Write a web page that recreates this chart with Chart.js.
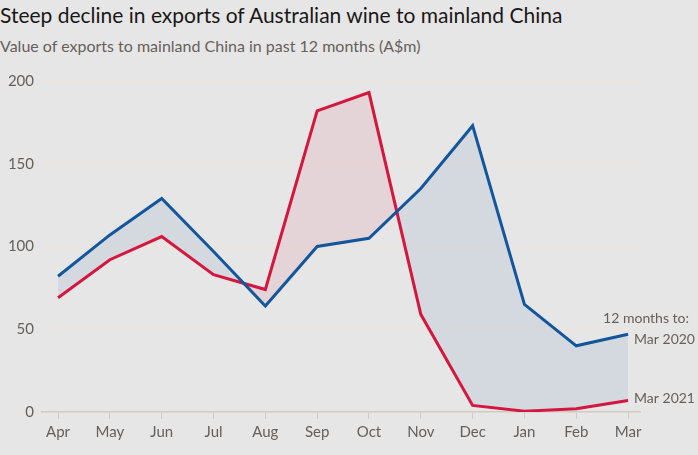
<!DOCTYPE html>
<html>
<head>
<meta charset="utf-8">
<script src="https://cdn.jsdelivr.net/npm/chart.js@4.4.1/dist/chart.umd.min.js"></script>
<style>
    html, body { margin: 0; padding: 0; background: #e6e6e6; }
    body { width: 698px; height: 455px; position: relative; overflow: hidden; font-family: Lato, 'Noto Sans', sans-serif; }
    .title { position: absolute; left: 0; top: 2px; font-size: 21px; color: #1a1817; white-space: nowrap; }
    .subtitle { position: absolute; left: 0; top: 36px; font-size: 16px; color: #66605c; white-space: nowrap; }
    .wrap { position: absolute; left: 0; top: 60px; width: 698px; height: 395px; }
</style>
</head>
<body>
<div class="title">Steep decline in exports of Australian wine to mainland China</div>
<div class="subtitle">Value of exports to mainland China in past 12 months (A$m)</div>
<div class="wrap"><canvas id="chart"></canvas></div>
<script>
// =============================================================================
// DATA
// =============================================================================

const months = ['Apr', 'May', 'Jun', 'Jul', 'Aug', 'Sep', 'Oct', 'Nov', 'Dec', 'Jan', 'Feb', 'Mar'];
const to2020 = [82, 107, 129, 97, 64, 100, 105, 135, 173, 65, 40, 47];
const to2021 = [69, 92, 106, 83, 74, 182, 193, 59, 4, 0.5, 2, 7];
const yTicks = [0, 50, 100, 150, 200];

const colors = {
    blue: '#13569b',
    red: '#d3173f',
    blueFill: 'rgba(19, 86, 155, 0.09)',
    redFill: 'rgba(211, 23, 63, 0.09)',
    grid: '#eee4dc',
    axis: '#d2c9c0',
    text: '#66605c'
};

const toPoints = vals => vals.map((v, i) => ({ x: i, y: v }));

// end labels at the right of the last month
const endLabels = {
    id: 'endLabels',
    afterDatasetsDraw(chart) {
        const { ctx, scales: { x, y } } = chart;
        const last = months.length - 1;
        const px = x.getPixelForValue(last) + 6;
        const y20 = y.getPixelForValue(to2020[last]) + 5;
        const y21 = y.getPixelForValue(to2021[last]) - 2;
        ctx.save();
        ctx.fillStyle = colors.text;
        ctx.font = '14px Lato, "Noto Sans", sans-serif';
        ctx.textBaseline = 'middle';
        ctx.textAlign = 'left';
        ctx.fillText('Mar 2020', px, y20);
        ctx.fillText('Mar 2021', px, y21);
        ctx.textAlign = 'right';
        ctx.fillText('12 months to:', chart.width - 9, y20 - 21);
        ctx.restore();
    }
};

new Chart(document.getElementById('chart'), {
    type: 'line',
    data: {
        datasets: [
            {
                label: '12 months to Mar 2020',
                data: toPoints(to2020),
                borderColor: colors.blue,
                borderWidth: 3,
                pointRadius: 0,
                tension: 0,
                fill: { target: 1, above: colors.blueFill, below: colors.redFill }
            },
            {
                label: '12 months to Mar 2021',
                data: toPoints(to2021),
                borderColor: colors.red,
                borderWidth: 3,
                pointRadius: 0,
                tension: 0,
                fill: false
            }
        ]
    },
    options: {
        responsive: true,
        maintainAspectRatio: false,
        animation: false,
        layout: { padding: { top: 21, right: 58, bottom: 10, left: 0 } },
        plugins: {
            legend: { display: false },
            tooltip: { enabled: false },
            filler: { drawTime: 'beforeDatasetsDraw' }
        },
        scales: {
            x: {
                type: 'linear',
                min: -0.31,
                max: 11.23,
                grid: { drawOnChartArea: false, drawTicks: true, tickLength: 7, color: colors.axis },
                border: { display: true, color: colors.axis, width: 1.5 },
                ticks: {
                    stepSize: 1,
                    includeBounds: false,
                    autoSkip: false,
                    maxRotation: 0,
                    padding: 4,
                    color: colors.text,
                    font: { family: 'Lato', size: 15 },
                    callback: v => months[v]
                }
            },
            y: {
                min: 0,
                max: 200,
                afterFit: scale => { scale.width = 42; },
                afterBuildTicks: scale => { scale.ticks = yTicks.map(v => ({ value: v })); },
                grid: { color: colors.grid, drawTicks: false, lineWidth: 1.5 },
                border: { display: false },
                ticks: {
                    padding: 8,
                    color: colors.text,
                    font: { family: 'Lato', size: 15 }
                }
            }
        }
    },
    plugins: [endLabels]
});
</script>
</body>
</html>
